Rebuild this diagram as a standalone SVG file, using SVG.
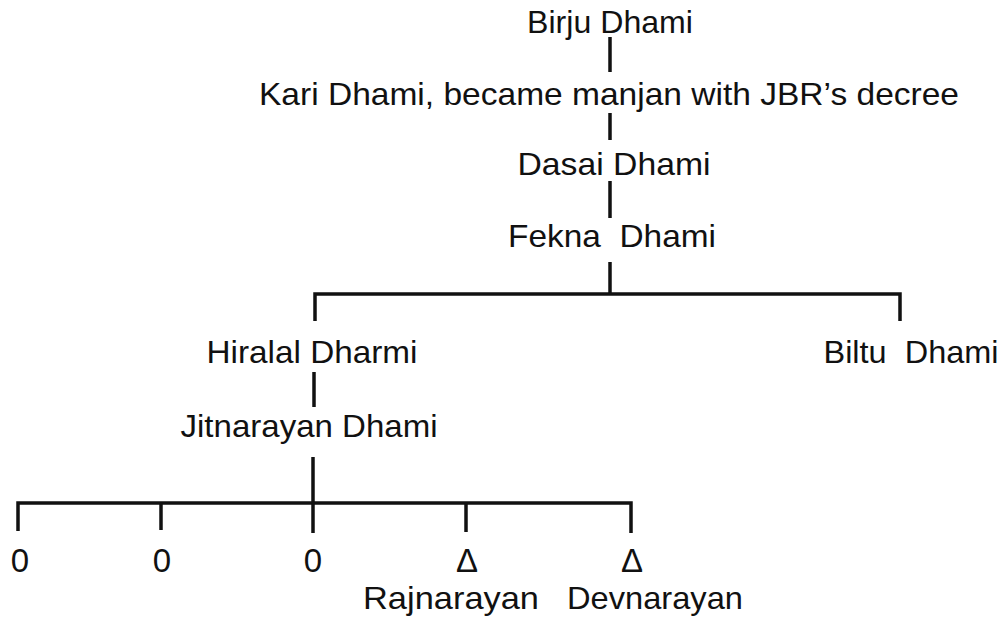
<svg xmlns="http://www.w3.org/2000/svg" width="1005" height="621" viewBox="0 0 1005 621">
<style>
text{font-family:"Liberation Sans",Arial,sans-serif;font-size:32px;fill:#111;text-anchor:middle}
.sym{font-size:33px}
.c line,.c polyline{stroke:#111;stroke-width:3.5;fill:none}
</style>
<rect width="1005" height="621" fill="#fff"/>
<g class="c" id="connectors">
<line x1="610" y1="37" x2="610" y2="72"/>
<line x1="610" y1="113" x2="610" y2="140"/>
<line x1="610" y1="181" x2="610" y2="218"/>
<line x1="610" y1="262" x2="610" y2="294"/>
<polyline points="315,321 315,294 900,294 900,321"/>
<line x1="314" y1="372" x2="314" y2="407"/>
<line x1="313" y1="457" x2="313" y2="503"/>
<polyline points="18,531 18,503 631,503 631,533"/>
<line x1="161" y1="503" x2="161" y2="530"/>
<line x1="313" y1="503" x2="313" y2="533"/>
<line x1="466" y1="503" x2="466" y2="532"/>
</g>
<g id="birju"><text x="610" y="33" textLength="166" lengthAdjust="spacingAndGlyphs">Birju Dhami</text></g>
<g id="kari"><text x="609" y="105" textLength="700" lengthAdjust="spacingAndGlyphs">Kari Dhami, became manjan with JBR’s decree</text></g>
<g id="dasai"><text x="614" y="175" textLength="193" lengthAdjust="spacingAndGlyphs">Dasai Dhami</text></g>
<g id="fekna"><text x="612" y="247" xml:space="preserve" textLength="208" lengthAdjust="spacingAndGlyphs">Fekna  Dhami</text></g>
<g id="hiralal"><text x="312" y="363" textLength="211" lengthAdjust="spacingAndGlyphs">Hiralal Dharmi</text></g>
<g id="biltu"><text x="911" y="363" xml:space="preserve" textLength="175" lengthAdjust="spacingAndGlyphs">Biltu  Dhami</text></g>
<g id="jitnarayan"><text x="309" y="437" textLength="257" lengthAdjust="spacingAndGlyphs">Jitnarayan Dhami</text></g>
<g id="c1"><text class="sym" x="20" y="572">0</text></g>
<g id="c2"><text class="sym" x="162" y="572">0</text></g>
<g id="c3"><text class="sym" x="313" y="572">0</text></g>
<g id="raj"><text class="sym" x="467" y="572">Δ</text><text x="451" y="609" textLength="176" lengthAdjust="spacingAndGlyphs">Rajnarayan</text></g>
<g id="dev"><text class="sym" x="632" y="572">Δ</text><text x="655" y="609" textLength="176" lengthAdjust="spacingAndGlyphs">Devnarayan</text></g>
</svg>
